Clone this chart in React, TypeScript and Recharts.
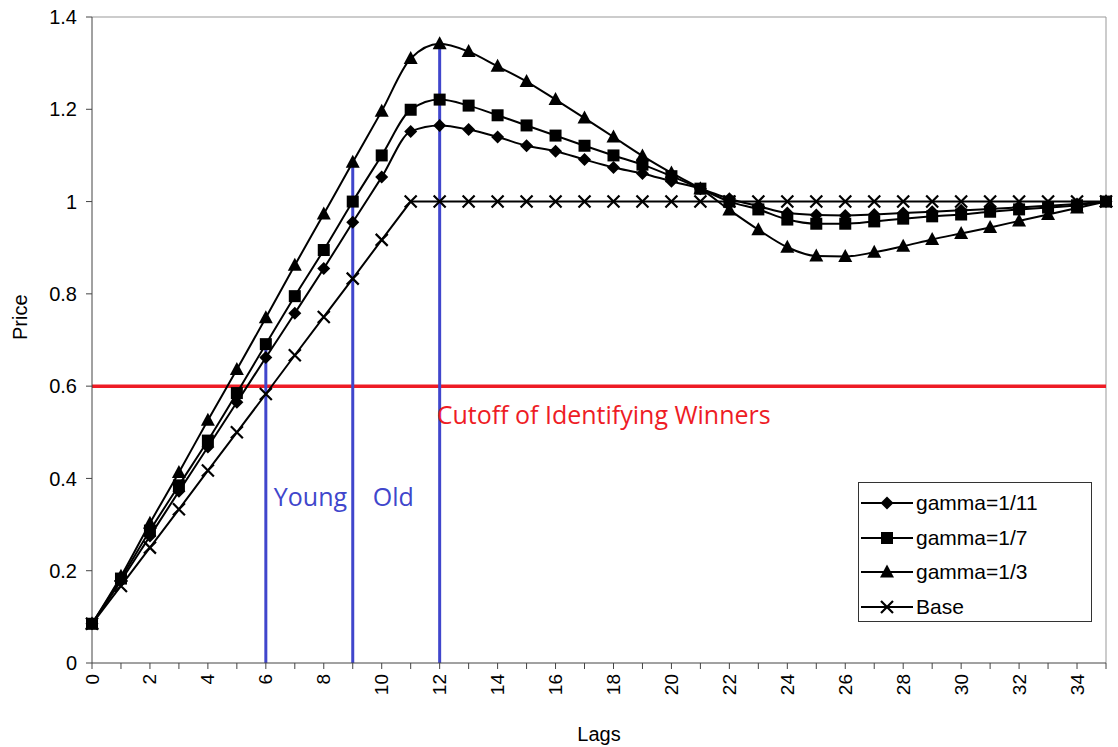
import {
  Line,
  LineChart,
  ReferenceDot,
  ReferenceLine,
  XAxis,
  YAxis,
} from "recharts";

const lags = [
  0, 1, 2, 3, 4, 5, 6, 7, 8, 9, 10, 11, 12, 13, 14, 15, 16, 17, 18, 19, 20, 21,
  22, 23, 24, 25, 26, 27, 28, 29, 30, 31, 32, 33, 34, 35,
];
const gamma11 = [
  0.085, 0.178, 0.275, 0.372, 0.468, 0.565, 0.662, 0.758, 0.855, 0.955, 1.053,
  1.152, 1.165, 1.156, 1.14, 1.121, 1.109, 1.091, 1.074, 1.061, 1.044, 1.028,
  1.006, 0.99, 0.975, 0.971, 0.97, 0.972, 0.975, 0.978, 0.981, 0.984, 0.987,
  0.991, 0.995, 1.0,
];
const gamma7 = [
  0.085, 0.183, 0.287, 0.385, 0.482, 0.585, 0.691, 0.795, 0.895, 1.0, 1.1,
  1.199, 1.221, 1.208, 1.187, 1.165, 1.143, 1.121, 1.1, 1.08, 1.055, 1.028, 1.0,
  0.983, 0.961, 0.952, 0.952, 0.957, 0.963, 0.968, 0.972, 0.978, 0.983, 0.987,
  0.992, 1.0,
];
const gamma3 = [
  0.085, 0.188, 0.303, 0.413, 0.526, 0.636, 0.748, 0.862, 0.973, 1.085, 1.196,
  1.31, 1.342, 1.325, 1.293, 1.26, 1.221, 1.181, 1.14, 1.099, 1.062, 1.028,
  0.982, 0.939, 0.901, 0.882, 0.881, 0.89, 0.903, 0.918, 0.931, 0.944, 0.958,
  0.972, 0.986, 1.0,
];
const base = [
  0.085, 0.167, 0.25, 0.333, 0.417, 0.5, 0.583, 0.667, 0.75, 0.833, 0.917, 1,
  1, 1, 1, 1, 1, 1, 1, 1, 1, 1, 1, 1, 1, 1, 1, 1, 1, 1, 1, 1, 1, 1, 1, 1,
];
const yTicks = [0, 0.2, 0.4, 0.6, 0.8, 1, 1.2, 1.4];

const chartData = lags.map((lag, i) => ({
  lag,
  g11: gamma11[i],
  g7: gamma7[i],
  g3: gamma3[i],
  base: base[i],
}));

const series = [
  { key: "g11", name: "gamma=1/11", shape: "diamond", curve: "monotone" },
  { key: "g7", name: "gamma=1/7", shape: "square", curve: "monotone" },
  { key: "g3", name: "gamma=1/3", shape: "triangle", curve: "monotone" },
  { key: "base", name: "Base", shape: "cross", curve: "linear" },
];

const BLUE = "#4046cc";
const RED = "#ee1c25";
const AXIS_FONT = "'Liberation Sans', Arial, sans-serif";
const NOTE_FONT = "'Open Sans', sans-serif";

const Marker = ({ shape, cx, cy }: { shape: string; cx: number; cy: number }) => {
  if (shape === "diamond") {
    const r = 6.5;
    return (
      <path
        d={`M${cx},${cy - r}L${cx + r},${cy}L${cx},${cy + r}L${cx - r},${cy}Z`}
        fill="#000"
      />
    );
  }
  if (shape === "square") {
    return <rect x={cx - 6} y={cy - 6} width={12} height={12} fill="#000" />;
  }
  if (shape === "triangle") {
    return (
      <path
        d={`M${cx},${cy - 7.5}L${cx + 7},${cy + 5.5}L${cx - 7},${cy + 5.5}Z`}
        fill="#000"
      />
    );
  }
  return (
    <path
      d={`M${cx - 6},${cy - 6}L${cx + 6},${cy + 6}M${cx + 6},${cy - 6}L${cx - 6},${cy + 6}`}
      stroke="#000"
      strokeWidth={2.2}
      fill="none"
    />
  );
};

const XTick = (props: any) => {
  const { x, y, payload } = props;
  if (payload.value % 2 !== 0) return null;
  return (
    <text
      x={x}
      y={y + 3}
      transform={`rotate(-90, ${x}, ${y + 3})`}
      textAnchor="end"
      dominantBaseline="central"
      fontSize={19}
      fontFamily={AXIS_FONT}
      fill="#000"
    >
      {payload.value}
    </text>
  );
};

// legend box drawn over the plot, lower right
const LegendBox = () => (
  <div
    style={{
      position: "absolute",
      left: 858,
      top: 482,
      width: 234,
      height: 140,
      border: "1px solid #333",
      background: "#fff",
      padding: "3px 0 0 0",
      boxSizing: "border-box",
    }}
  >
    {series.map((s) => (
      <div
        key={s.key}
        style={{ display: "flex", alignItems: "center", height: 34.5 }}
      >
        <svg width={54} height={20} style={{ marginLeft: 2 }}>
          <line x1={0} y1={10} x2={52} y2={10} stroke="#000" strokeWidth={2} />
          <Marker shape={s.shape} cx={26} cy={10} />
        </svg>
        <span
          style={{
            fontFamily: AXIS_FONT,
            fontSize: 21,
            color: "#000",
            marginLeft: 1,
          }}
        >
          {s.name}
        </span>
      </div>
    ))}
  </div>
);

export default function App() {
  return (
    <div style={{ position: "absolute", left: 0, top: 0, width: 1118, height: 747, background: "#fff" }}>
      <LineChart
        width={1118}
        height={747}
        data={chartData}
        margin={{ top: 17, right: 12, left: 0, bottom: 0 }}
      >
        <XAxis
          dataKey="lag"
          type="number"
          domain={[0, 35]}
          ticks={lags}
          interval={0}
          tick={<XTick />}
          tickSize={6}
          height={84}
          stroke="#444"
          label={{
            value: "Lags",
            position: "insideBottom",
            offset: 6,
            fontSize: 20,
            fontFamily: AXIS_FONT,
            fill: "#000",
          }}
        />
        <YAxis
          type="number"
          domain={[0, 1.4]}
          ticks={yTicks}
          interval={0}
          width={92}
          tickSize={6}
          tickMargin={9}
          stroke="#444"
          tick={{ fontSize: 20, fontFamily: AXIS_FONT, fill: "#000" }}
          tickFormatter={(v: number) => String(+v.toFixed(1))}
          label={{
            value: "Price",
            angle: -90,
            position: "insideLeft",
            offset: 20,
            fontSize: 20,
            fontFamily: AXIS_FONT,
            fill: "#000",
          }}
        />
        <ReferenceLine y={1.4} stroke="#999" strokeWidth={1} />
        <ReferenceLine x={35} stroke="#999" strokeWidth={1} />
        <ReferenceLine y={0.6} stroke={RED} strokeWidth={3.5} />
        <ReferenceLine
          segment={[
            { x: 6, y: 0 },
            { x: 6, y: 0.69 },
          ]}
          stroke={BLUE}
          strokeWidth={3}
        />
        <ReferenceLine
          segment={[
            { x: 9, y: 0 },
            { x: 9, y: 1.085 },
          ]}
          stroke={BLUE}
          strokeWidth={3}
        />
        <ReferenceLine
          segment={[
            { x: 12, y: 0 },
            { x: 12, y: 1.342 },
          ]}
          stroke={BLUE}
          strokeWidth={3}
        />
        {series.map((s) => (
          <Line
            key={s.key}
            dataKey={s.key}
            name={s.name}
            type={s.curve as any}
            stroke="#000"
            strokeWidth={2}
            isAnimationActive={false}
            dot={(p: any) => (
              <Marker key={`${s.key}-${p.index}`} shape={s.shape} cx={p.cx} cy={p.cy} />
            )}
            activeDot={false}
          />
        ))}
        <ReferenceDot
          x={12}
          y={0.538}
          r={0}
          fill="none"
          stroke="none"
          label={{
            value: "Cutoff of Identifying Winners",
            position: "right",
            offset: -3,
            fontSize: 25,
            fontFamily: NOTE_FONT,
            fill: RED,
          }}
        />
        <ReferenceDot
          x={6}
          y={0.36}
          r={0}
          fill="none"
          stroke="none"
          label={{
            value: "Young",
            position: "right",
            offset: 8,
            fontSize: 25,
            fontFamily: NOTE_FONT,
            fill: BLUE,
          }}
        />
        <ReferenceDot
          x={9}
          y={0.36}
          r={0}
          fill="none"
          stroke="none"
          label={{
            value: "Old",
            position: "right",
            offset: 20,
            fontSize: 25,
            fontFamily: NOTE_FONT,
            fill: BLUE,
          }}
        />
      </LineChart>
      <LegendBox />
    </div>
  );
}
